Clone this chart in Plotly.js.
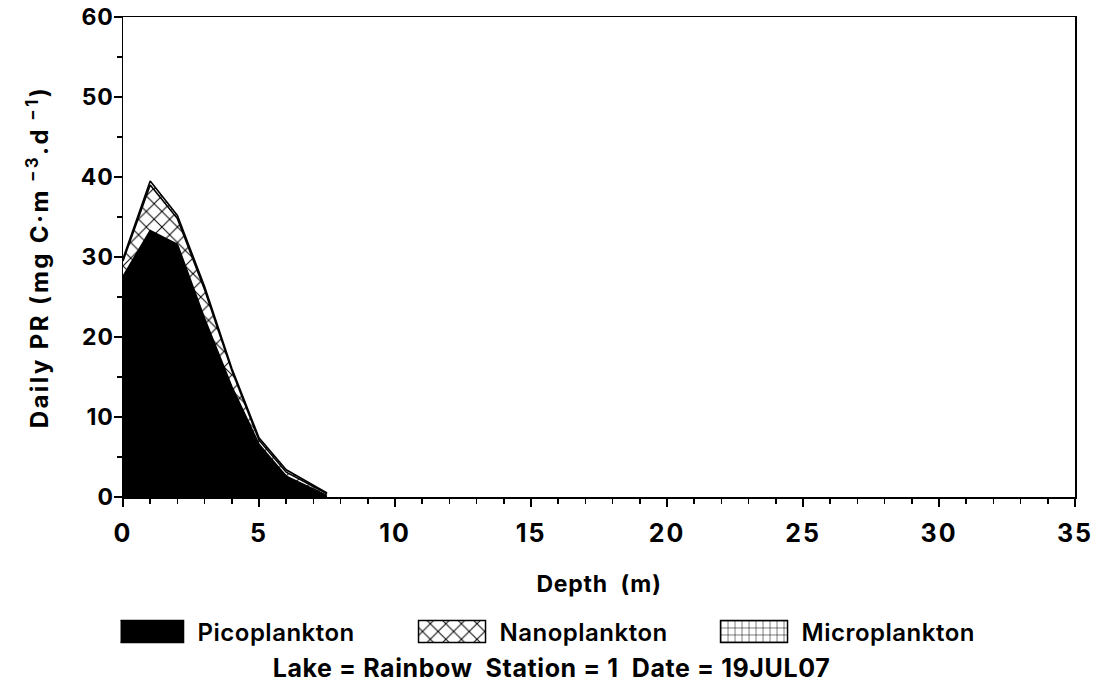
<!DOCTYPE html>
<html>
<head>
<meta charset="utf-8">
<script src="https://cdn.plot.ly/plotly-3.0.1.min.js"></script>
<style>
  html, body { margin: 0; padding: 0; background: #fff; }
  #chart { width: 1103px; height: 690px; }
  /* the lettering of this report style runs a little wide */
  #chart .xtick text { letter-spacing: 2px; }
  #chart .ytick text { letter-spacing: 1px; }
  #chart .xtitle { letter-spacing: 0.8px; }
  #chart .ytitle { letter-spacing: 2.4px; }
  #chart .legendtext { letter-spacing: 0.5px; }
  #chart .gtitle { letter-spacing: 0.6px; }
</style>
</head>
<body>
<div id="chart"></div>
<script>
// Daily primary production by size fraction, stacked over depth
const depth = [0, 1, 2, 3, 4, 5, 6, 7.5];
const pico  = [27.6, 33.3, 31.6, 22.3, 13.8, 6.6, 2.6, 0.2];
const nano  = [1.9, 5.7, 3.2, 3.6, 2.0, 0.5, 0.5, 0.2];
const micro = [0.3, 0.5, 0.4, 0.4, 0.3, 0.3, 0.3, 0.1];

const seriesNames = ['Picoplankton', 'Nanoplankton', 'Microplankton'];
const xTicks = [0, 5, 10, 15, 20, 25, 30, 35];
const yTicks = [0, 10, 20, 30, 40, 50, 60];
const footer = 'Lake = Rainbow\u00a0\u00a0Station = 1\u00a0\u00a0Date = 19JUL07';

const FONT = 'Inter, "Liberation Sans", Arial, sans-serif';
const outline = { color: 'black', width: 1.6, shape: 'linear' };

const traces = [
  {
    x: depth, y: pico, name: seriesNames[0], type: 'scatter', mode: 'lines',
    stackgroup: 'pr', line: outline, fillcolor: 'black', hoverinfo: 'skip'
  },
  {
    x: depth, y: nano, name: seriesNames[1], type: 'scatter', mode: 'lines',
    stackgroup: 'pr', line: outline, fillcolor: 'white', hoverinfo: 'skip',
    fillpattern: { shape: 'x', size: 11, solidity: 0.17, fgcolor: 'black', bgcolor: 'white' }
  },
  {
    x: depth, y: micro, name: seriesNames[2], type: 'scatter', mode: 'lines',
    stackgroup: 'pr', line: outline, fillcolor: 'white', hoverinfo: 'skip',
    fillpattern: { shape: '+', size: 7, solidity: 0.14, fgcolor: 'black', bgcolor: 'white' }
  }
];

const axisBase = {
  ticks: 'outside', ticklen: 8, tickwidth: 1.5, tickcolor: 'black',
  showline: true, linewidth: 1.5, linecolor: 'black', mirror: true,
  showgrid: false, zeroline: false, fixedrange: true
};

const layout = {
  width: 1103, height: 690,
  margin: { l: 123, r: 28, t: 17, b: 193 },
  paper_bgcolor: 'white', plot_bgcolor: 'white',
  font: { family: FONT, color: 'black' },
  title: {
    text: footer, xref: 'container', yref: 'container',
    x: 0.5, y: 0.032, xanchor: 'center', yanchor: 'middle',
    font: { size: 25, weight: 700 }
  },
  showlegend: true,
  legend: {
    orientation: 'h', x: -0.0026, y: -0.281, xanchor: 'left', yanchor: 'middle',
    traceorder: 'normal', entrywidth: 220, entrywidthmode: 'pixels',
    itemwidth: 67, font: { size: 24, weight: 600 }, bgcolor: 'rgba(0,0,0,0)'
  },
  xaxis: Object.assign({}, axisBase, {
    range: [0, 35], tickvals: xTicks, ticktext: xTicks.map(String),
    tickfont: { size: 25, weight: 700 }, ticklabelstandoff: 5,
    minor: { dtick: 1, tick0: 0, ticks: 'outside', ticklen: 5, tickwidth: 1.5, tickcolor: 'black', showgrid: false },
    title: { text: 'Depth\u00a0\u00a0(m)', font: { size: 23, weight: 700 }, standoff: 29 }
  }),
  yaxis: Object.assign({}, axisBase, {
    range: [0, 60], tickvals: yTicks, ticktext: yTicks.map(String),
    tickfont: { size: 23, weight: 700 }, ticklabelstandoff: -5,
    minor: { dtick: 5, tick0: 0, ticks: 'outside', ticklen: 5, tickwidth: 1.5, tickcolor: 'black', showgrid: false },
    title: {
      text: 'Daily PR (mg C\u00b7m<sup>\u00a0\u22123</sup>.d<sup>\u00a0\u22121</sup>)',
      font: { size: 24, weight: 700 }, standoff: 27
    }
  })
};

// Widen the legend keys into outlined boxes that sit just before each label
function boxLegendKeys(gd) {
  const W = 67, H = 22, GAP = 14;
  gd.querySelectorAll('.legend .traces').forEach(function (g) {
    const txt = g.querySelector('text.legendtext');
    if (!txt) return;
    const tx = parseFloat(txt.getAttribute('x')) || 40;
    const x0 = tx - GAP - W;
    const d = 'M' + x0 + ',' + (-H / 2) + 'h' + W + 'v' + H + 'h' + (-W) + 'z';
    g.querySelectorAll('.legendfill path').forEach(function (p) { p.setAttribute('d', d); });
    g.querySelectorAll('.legendlines path').forEach(function (p) {
      p.setAttribute('d', d);
      p.style.fill = 'none';
      p.style.strokeWidth = '1.5px';
    });
  });
}

Plotly.newPlot('chart', traces, layout, { displayModeBar: false, staticPlot: true })
  .then(function (gd) { boxLegendKeys(gd); });
</script>
</body>
</html>
